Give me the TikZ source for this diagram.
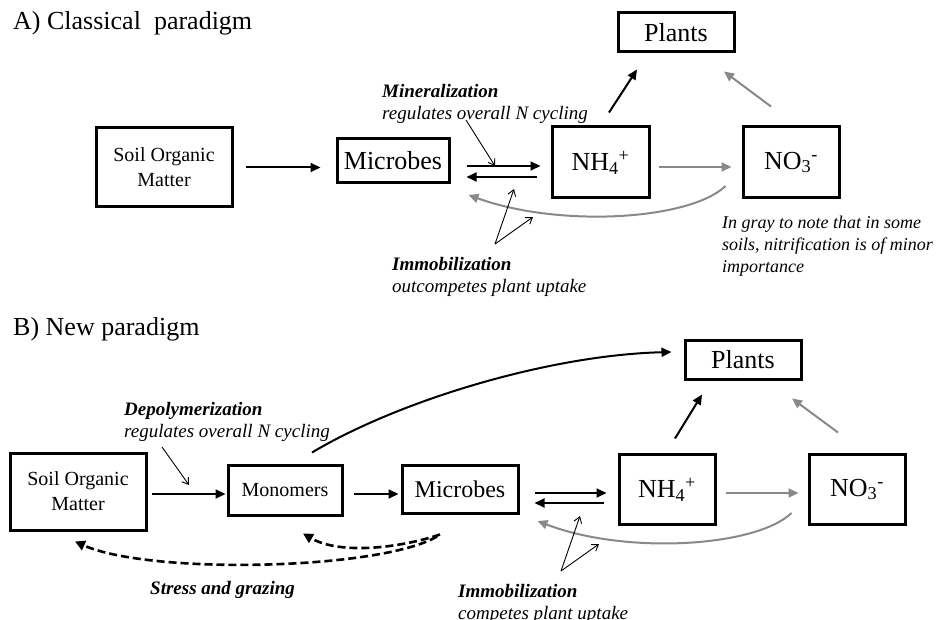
\documentclass[tikz,border=0pt]{standalone}
\usepackage{fontspec}
\setmainfont{Liberation Serif}
\usetikzlibrary{arrows.meta,calc}
\definecolor{grayarr}{RGB}{137,137,137}
\tikzset{
  box/.style={draw, line width=3pt, inner sep=0pt, align=center},
  bigtxt/.style={font=\fontsize{26}{30}\selectfont},
  midtxt/.style={font=\fontsize{20}{25}\selectfont},
  titletxt/.style={font=\fontsize{26}{30}\selectfont, inner sep=0pt},
  arr/.style={line width=2pt, -{Triangle[length=10pt,width=9pt]}},
  garr/.style={arr, color=grayarr},
  ptr/.style={line width=0.9pt, -{Straight Barb[length=6pt,width=8pt]}},
  dasharr/.style={line width=2.6pt, dash pattern=on 8pt off 4pt, -{Triangle[length=10pt,width=10pt]}},
  note/.style={font=\fontsize{19}{22}\selectfont, align=left, inner sep=0pt},
  smallnote/.style={font=\fontsize{18}{22}\selectfont, align=left, inner sep=0pt},
}
\begin{document}
\begin{tikzpicture}[x=1pt,y=-1pt]
\useasboundingbox (0,0) rectangle (941,620);

% ---------------- A) Classical paradigm ----------------
\node[titletxt, anchor=base west] (tA) at (13,30) {A) Classical\ \ paradigm};

\node[box, midtxt, minimum width=136, minimum height=79] (somA) at (164,167.5) {Soil Organic\\Matter};
\node[box, bigtxt, minimum width=112, minimum height=44] (micA) at (393,161) {Microbes};
\node[box, bigtxt, minimum width=97, minimum height=71] (nhA) at (600.5,162.5) {NH\textsubscript{4}\textsuperscript{+}};
\node[box, bigtxt, minimum width=96, minimum height=71] (noA) at (791,162.5) {NO\textsubscript{3}\textsuperscript{-}};
\node[box, bigtxt, minimum width=116, minimum height=39] (plA) at (676,32.5) {Plants};

\draw[arr] ($(somA.east)+(12,0)$) -- ($(somA.east -| micA.west)+(-15,0)$);
\draw[arr] ($(micA.east)+(16,5)$) -- ($(nhA.west)+(-10,3.5)$);
\draw[arr] ($(nhA.west)+(-14,14.5)$) -- ($(micA.east)+(16,16)$);
\draw[arr] ($(nhA.north)+(8.5,-13)$) -- ($(plA.south)+(-39,16)$);
\draw[garr] ($(noA.north)+(-20,-19)$) -- ($(plA.south)+(48,18)$);
\draw[garr] ($(nhA.east)+(8,4.5)$) -- ($(noA.west)+(-10,4.5)$);
\draw[garr] ($(noA.west)+(-16,23.5)$) .. controls (690,220) and (560,228) .. ($(micA.east)+(18,34)$);

\node[note, anchor=north west] (minTxt) at (382,84) {\textbf{\textit{Mineralization}}\\\textit{regulates overall N cycling}};
\coordinate (minS) at (466,120);
\coordinate (minT) at (495,166);
\draw[ptr] (minS) -- (minT);

\node[note, anchor=north west] (immTxtA) at (392,257) {\textbf{\textit{Immobilization}}\\\textit{outcompetes plant uptake}};
\coordinate (immA0) at (495,244);
\coordinate (immA1) at (514,189);
\coordinate (immA2) at (533,217);
\draw[ptr] (immA0) -- (immA1);
\draw[ptr] (immA0) -- (immA2);

\node[smallnote, anchor=north west] (grayNote) at (722,216) {\textit{In gray to note that in some}\\\textit{soils, nitrification is of minor}\\\textit{importance}};

% ---------------- B) New paradigm ----------------
\node[titletxt, anchor=base west] (tB) at (13,335) {B) New paradigm};

\node[box, midtxt, minimum width=136, minimum height=77] (somB) at (78,491.5) {Soil Organic\\Matter};
\node[box, midtxt, minimum width=114, minimum height=50] (monB) at (285,490) {Monomers};
\node[box, font=\fontsize{24}{28}\selectfont, minimum width=116, minimum height=48] (micB) at (460,489) {Microbes};
\node[box, bigtxt, minimum width=96, minimum height=70] (nhB) at (667,489.5) {NH\textsubscript{4}\textsuperscript{+}};
\node[box, bigtxt, minimum width=96, minimum height=70] (noB) at (857,489.5) {NO\textsubscript{3}\textsuperscript{-}};
\node[box, bigtxt, minimum width=116, minimum height=39] (plB) at (743,359.5) {Plants};

\draw[arr] ($(somB.east)+(4,2.5)$) -- ($(monB.west)+(-1,4)$);
\draw[arr] ($(monB.east)+(10,4)$) -- ($(micB.west)+(-2,5)$);
\draw[arr] ($(micB.east)+(15,4)$) -- ($(nhB.west)+(-11,3.5)$);
\draw[arr] ($(nhB.west)+(-14,13.5)$) -- ($(micB.east)+(15,14)$);
\draw[garr] ($(nhB.east)+(9,3.5)$) -- ($(noB.west)+(-9,3.5)$);
\draw[arr] ($(nhB.north)+(8,-14.5)$) -- ($(plB.south)+(-41,14)$);
\draw[garr] ($(noB.north)+(-19,-20.5)$) -- ($(plB.south)+(49,18)$);
\draw[garr] ($(noB.west)+(-16,23.5)$) .. controls (756,547) and (626,555) .. ($(micB.east)+(18,32)$);
\draw[arr] ($(monB.north)+(27,-11)$) .. controls (400,400) and (550,355) .. ($(plB.west)+(-12,-7.5)$);

\draw[dasharr] ($(micB.south)+(-20,20)$) .. controls (400,548) and (340,555) .. ($(monB.south)+(18,17)$);
\draw[dasharr] ($(micB.south)+(-23,22)$) .. controls (380,570) and (150,575) .. ($(somB.south)+(-3,10)$);

\node[note, anchor=north west] (depTxt) at (124,402) {\textbf{\textit{Depolymerization}}\\\textit{regulates overall N cycling}};
\coordinate (depS) at (162,447);
\coordinate (depT) at (189,485);
\draw[ptr] (depS) -- (depT);

\node[note, anchor=north west] (immTxtB) at (458,584) {\textbf{\textit{Immobilization}}\\\textit{competes plant uptake}};
\coordinate (immB0) at (561,571);
\coordinate (immB1) at (580,516);
\coordinate (immB2) at (599,544);
\draw[ptr] (immB0) -- (immB1);
\draw[ptr] (immB0) -- (immB2);

\node[note, anchor=base west] (stressTxt) at (150,594) {\textbf{\textit{Stress and grazing}}};
\end{tikzpicture}
\end{document}
